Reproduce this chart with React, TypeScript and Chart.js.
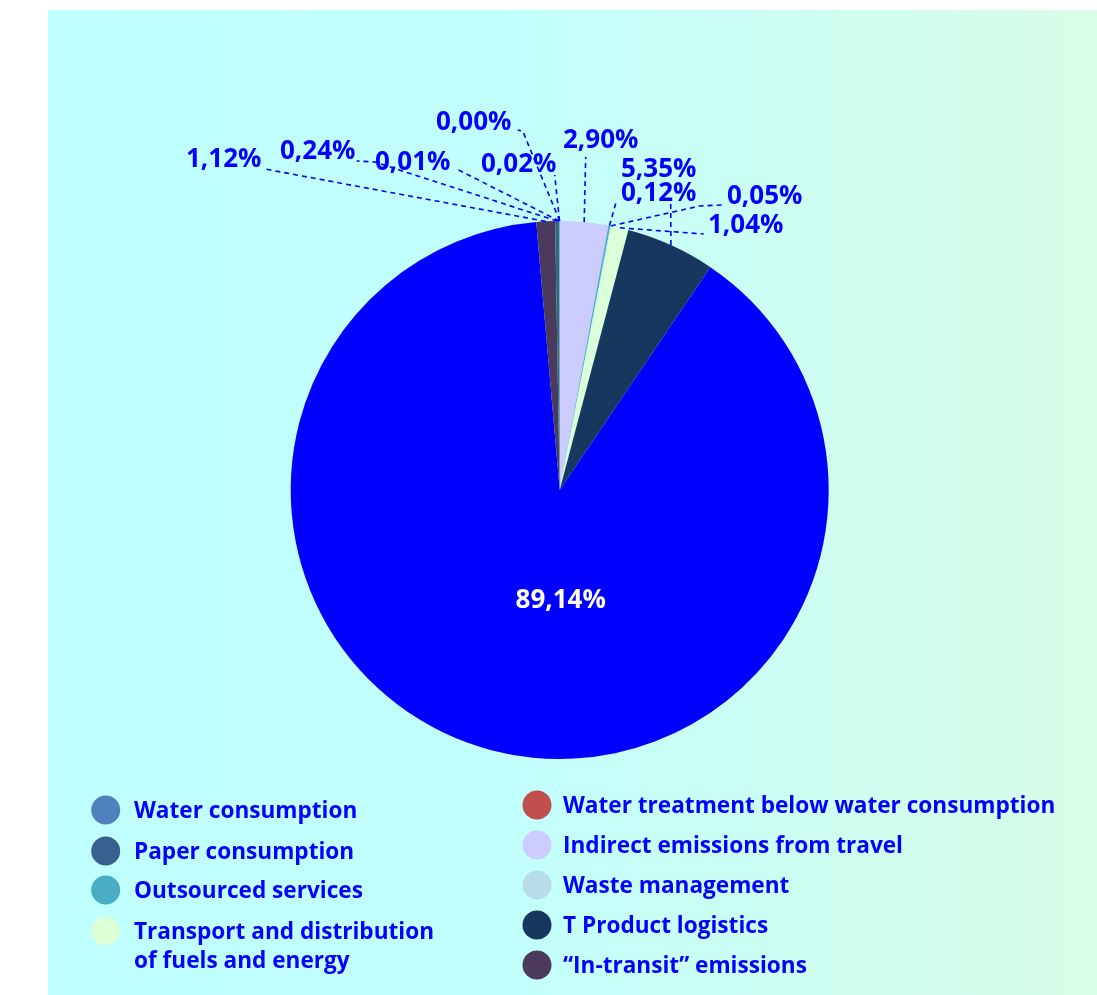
import React, { useEffect, useRef } from "react";
import { Chart, registerables } from "chart.js";

Chart.register(...registerables);

// ---- Data ----
const categories = [
  "Indirect emissions from travel",
  "Outsourced services",
  "Waste management",
  "Transport and distribution of fuels and energy",
  "T Product logistics",
  "Purchased goods",
  "“In-transit” emissions",
  "Paper consumption",
  "Water treatment below water consumption",
  "Water consumption",
  "Other",
];
const values = [2.9, 0.12, 0.05, 1.04, 5.35, 89.14, 1.12, 0.24, 0.01, 0.02, 0.0];
const sliceColors = [
  "#ccccff",
  "#4bacc6",
  "#b7dee8",
  "#dbffd9",
  "#17375e",
  "#0000ff",
  "#4b3a5e",
  "#2f6a80",
  "#c0504d",
  "#4f81bd",
  "#8064a2",
];

// legend (two columns)
const legendLeftLabels = [
  "Water consumption",
  "Paper consumption",
  "Outsourced services",
  "Transport and distribution\nof fuels and energy",
];
const legendLeftColors = ["#4f81bd", "#385f8e", "#4bacc6", "#dcffd6"];
const legendRightLabels = [
  "Water treatment below water consumption",
  "Indirect emissions from travel",
  "Waste management",
  "T Product logistics",
  "“In-transit” emissions",
];
const legendRightColors = ["#c0504d", "#ccccff", "#b7dee8", "#17375e", "#4b3a5e"];

// ---- Layout (annotation placement, relative to pie centre) ----
const labelOffsets: [number, number][] = [
  [41, -349],
  [99, -296],
  [205, -293],
  [186, -264],
  [99, -320],
  [1, 111],
  [-336, -330],
  [-242, -338],
  [-147, -327],
  [-41, -325],
  [-86, -367],
];
const leaderPaths: [number, number][][] = [
  [[26, -333]],
  [[57, -290]],
  [[162, -285], [140, -284]],
  [[144, -256]],
  [[111, -291]],
  [],
  [[-295, -321]],
  [[-203, -329], [-185, -328]],
  [[-103, -321]],
  [[-5, -315]],
  [[-42, -360], [-37, -359]],
];

const W = 1049;
const H = 985;
const CX = 511.7;
const CY = 480;
const R = 269;
const FONT = '"Open Sans", "Noto Sans", sans-serif';

const fmt = (v: number) => v.toFixed(2).replace(".", ",") + "%";

const overlayPlugin = {
  id: "overlay",
  afterDatasetsDraw(chart: any) {
    const ctx = chart.ctx as CanvasRenderingContext2D;
    const meta = chart.getDatasetMeta(0);
    meta.data.forEach((arc: any, i: number) => {
      const p = arc.getProps(["x", "y", "startAngle", "endAngle", "outerRadius"], true);
      const mid = (p.startAngle + p.endAngle) / 2;
      const px = p.x + Math.cos(mid) * p.outerRadius;
      const py = p.y + Math.sin(mid) * p.outerRadius;
      const path = leaderPaths[i];
      if (path.length) {
        ctx.save();
        ctx.setLineDash([5, 4]);
        ctx.lineWidth = 1.6;
        ctx.strokeStyle = "#0000ff";
        ctx.beginPath();
        ctx.moveTo(px, py);
        for (let k = path.length - 1; k >= 0; k--) {
          ctx.lineTo(p.x + path[k][0], p.y + path[k][1]);
        }
        ctx.stroke();
        ctx.restore();
      }
      const off = labelOffsets[i];
      ctx.save();
      ctx.font = `bold 26px ${FONT}`;
      ctx.textAlign = "center";
      ctx.textBaseline = "middle";
      ctx.fillStyle = i === 5 ? "#ffffff" : "#0000ff";
      ctx.fillText(fmt(values[i]), p.x + off[0], p.y + off[1]);
      ctx.restore();
    });
  },
  afterDraw(chart: any) {
    const ctx = chart.ctx as CanvasRenderingContext2D;
    ctx.save();
    ctx.font = `bold 22.6px ${FONT}`;
    ctx.textBaseline = "middle";
    ctx.textAlign = "left";
    const drawItem = (cx: number, cy: number, color: string, text: string, tx: number) => {
      ctx.fillStyle = color;
      ctx.beginPath();
      ctx.arc(cx, cy, 14.5, 0, Math.PI * 2);
      ctx.fill();
      ctx.fillStyle = "#0000ff";
      text.split("\n").forEach((line, j) => ctx.fillText(line, tx, cy + 2 + j * 29));
    };
    const leftY = [800, 841, 880, 921];
    legendLeftLabels.forEach((t, i) => drawItem(57.7, leftY[i], legendLeftColors[i], t, 86));
    legendRightLabels.forEach((t, i) =>
      drawItem(489, 795 + i * 40, legendRightColors[i], t, 515)
    );
    ctx.restore();
  },
};

export default function App() {
  const ref = useRef<HTMLCanvasElement | null>(null);
  useEffect(() => {
    if (!ref.current) return;
    const chart = new Chart(ref.current, {
      type: "pie",
      data: {
        labels: categories,
        datasets: [
          {
            data: values,
            backgroundColor: sliceColors,
            borderWidth: 0,
          },
        ],
      },
      options: {
        animation: false,
        responsive: false,
        maintainAspectRatio: false,
        layout: {
          padding: {
            left: CX - R,
            right: W - CX - R,
            top: CY - R,
            bottom: H - CY - R,
          },
        },
        plugins: {
          legend: { display: false },
          tooltip: { enabled: false },
        },
      },
      plugins: [overlayPlugin],
    });
    return () => chart.destroy();
  }, []);
  return (
    <div
      style={{
        position: "fixed",
        left: 48,
        top: 10,
        width: W,
        height: H,
        background:
          "linear-gradient(to right, #bfffff 0%, #c0fffd 40%, #d9fde8 100%)",
      }}
    >
      <canvas ref={ref} width={W} height={H} style={{ width: W, height: H, display: "block" }} />
    </div>
  );
}
